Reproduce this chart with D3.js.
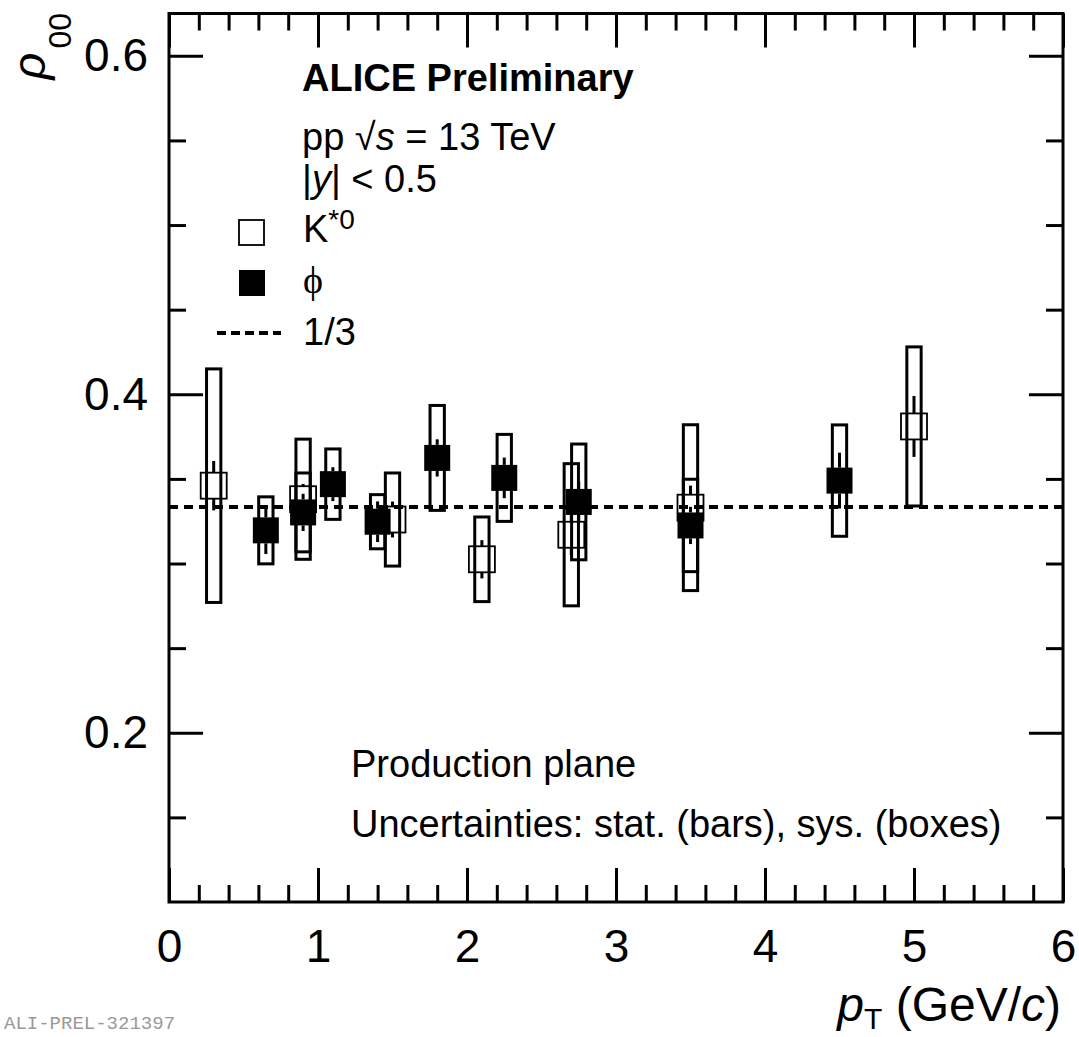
<!DOCTYPE html>
<html>
<head>
<meta charset="utf-8">
<script src="https://cdn.jsdelivr.net/npm/d3@7"></script>
<style>
  body { margin: 0; background: #fff; }
  svg text { font-family: "Liberation Sans", Arial, Helvetica, sans-serif; fill: #000; }
</style>
</head>
<body>
<div class="content"></div>
<script>
// K*0 points (open)
const kstarPt   = [0.3, 0.9, 1.5, 2.1, 2.7, 3.5, 5.0];
const kstarRho  = [0.346, 0.338, 0.326, 0.3025, 0.317, 0.333, 0.381];
const kstarStat = [0.0146, 0.009, 0.0106, 0.0113, 0.012, 0.013, 0.018];
const kstarSys  = [0.069, 0.0355, 0.0275, 0.025, 0.042, 0.049, 0.047];

// phi points (filled)
const phiPt   = [0.65, 0.9, 1.1, 1.4, 1.8, 2.25, 2.75, 3.5, 4.5];
const phiRho  = [0.3196, 0.3302, 0.3469, 0.3247, 0.3624, 0.3506, 0.3364, 0.3225, 0.349];
const phiStat = [0.014, 0.011, 0.010, 0.012, 0.011, 0.012, 0.012, 0.011, 0.0165];
const phiSys  = [0.0198, 0.0233, 0.0208, 0.016, 0.031, 0.0257, 0.0342, 0.0273, 0.0329];

const xMajor = [0, 1, 2, 3, 4, 5, 6];
const xMinor = d3.range(0.2, 6, 0.2).filter(v => Math.abs(v - Math.round(v)) > 0.01);
const yMajor = [0.2, 0.4, 0.6];
const yMinor = [0.15, 0.25, 0.3, 0.35, 0.45, 0.5, 0.55];
const refLine = 1 / 3;

const W = 1079, H = 1037;
const padL = 169, padR = 1063, padT = 13.5, padB = 902;

const svg = d3.select('div.content')
  .append('svg')
  .attr('width', W)
  .attr('height', H);

const x = d3.scaleLinear().domain([0, 6]).range([padL, padR]);
const y = d3.scaleLinear().domain([0.1, 0.625]).range([padB, padT]);

const zip = (pt, rho, stat, sys) => pt.map((p, i) => ({ pt: p, rho: rho[i], stat: stat[i], sys: sys[i] }));
const kstar = zip(kstarPt, kstarRho, kstarStat, kstarSys);
const phi = zip(phiPt, phiRho, phiStat, phiSys);

// axes (ticks inward on all four sides)
const styleAxis = (g, fs) => {
  g.select('.domain').remove();
  g.selectAll('line').attr('stroke', '#000').attr('stroke-width', 3);
  g.selectAll('text').style('font-size', fs + 'px').attr('fill', '#000');
};

svg.append('g').attr('transform', `translate(0,${padB})`)
  .call(d3.axisBottom(x).tickValues(xMajor).tickSize(-34).tickPadding(27).tickFormat(d3.format('d')))
  .call(g => styleAxis(g, 46));
svg.append('g').attr('transform', `translate(0,${padB})`)
  .call(d3.axisBottom(x).tickValues(xMinor).tickSize(-17).tickFormat(''))
  .call(g => styleAxis(g, 10));
svg.append('g').attr('transform', `translate(0,${padT})`)
  .call(d3.axisTop(x).tickValues(xMajor).tickSize(-34).tickFormat(''))
  .call(g => styleAxis(g, 10));
svg.append('g').attr('transform', `translate(0,${padT})`)
  .call(d3.axisTop(x).tickValues(xMinor).tickSize(-17).tickFormat(''))
  .call(g => styleAxis(g, 10));

svg.append('g').attr('transform', `translate(${padL},0)`)
  .call(d3.axisLeft(y).tickValues(yMajor).tickSize(-34).tickPadding(21).tickFormat(d3.format('.1f')))
  .call(g => styleAxis(g, 46));
svg.append('g').attr('transform', `translate(${padL},0)`)
  .call(d3.axisLeft(y).tickValues(yMinor).tickSize(-17).tickFormat(''))
  .call(g => styleAxis(g, 10));
svg.append('g').attr('transform', `translate(${padR},0)`)
  .call(d3.axisRight(y).tickValues(yMajor).tickSize(-34).tickFormat(''))
  .call(g => styleAxis(g, 10));
svg.append('g').attr('transform', `translate(${padR},0)`)
  .call(d3.axisRight(y).tickValues(yMinor).tickSize(-17).tickFormat(''))
  .call(g => styleAxis(g, 10));

svg.append('rect')
  .attr('x', padL).attr('y', padT)
  .attr('width', padR - padL).attr('height', padB - padT)
  .attr('fill', 'none').attr('stroke', '#000').attr('stroke-width', 3);

// 1/3 reference
svg.append('line')
  .attr('x1', padL).attr('x2', padR)
  .attr('y1', y(refLine)).attr('y2', y(refLine))
  .attr('stroke', '#000').attr('stroke-width', 4).attr('stroke-dasharray', '9,6');

// systematic boxes
const sysHalf = 0.048;
const drawSys = (data) => {
  svg.append('g').selectAll('rect')
    .data(data).enter().append('rect')
    .attr('x', d => x(d.pt - sysHalf))
    .attr('width', d => x(d.pt + sysHalf) - x(d.pt - sysHalf))
    .attr('y', d => y(d.rho + d.sys))
    .attr('height', d => y(d.rho - d.sys) - y(d.rho + d.sys))
    .attr('fill', 'none').attr('stroke', '#000').attr('stroke-width', 3);
};
drawSys(kstar);
drawSys(phi);

// stat bars + markers
const half = 13;
const drawPoints = (data, filled) => {
  const g = svg.append('g');
  data.forEach(d => {
    const cx = x(d.pt), cy = y(d.rho);
    const yt = y(d.rho + d.stat), yb = y(d.rho - d.stat);
    if (yt < cy - half) g.append('line').attr('x1', cx).attr('x2', cx).attr('y1', yt).attr('y2', cy - half)
      .attr('stroke', '#000').attr('stroke-width', 3);
    if (yb > cy + half) g.append('line').attr('x1', cx).attr('x2', cx).attr('y1', cy + half).attr('y2', yb)
      .attr('stroke', '#000').attr('stroke-width', 3);
  });
  g.selectAll('rect.marker')
    .data(data).enter().append('rect')
    .attr('class', 'marker')
    .attr('x', d => x(d.pt) - half)
    .attr('y', d => y(d.rho) - half)
    .attr('width', half * 2).attr('height', half * 2)
    .attr('fill', filled ? '#000' : 'none')
    .attr('stroke', filled ? 'none' : '#000')
    .attr('stroke-width', 1.8);
};
drawPoints(kstar, false);
drawPoints(phi, true);

// header text
svg.append('text').attr('x', 302).attr('y', 91)
  .style('font-size', '38px').style('font-weight', 'bold').text('ALICE Preliminary');

const pp = svg.append('text').attr('x', 302).attr('y', 150).style('font-size', '38px');
pp.append('tspan').text('pp  √');
pp.append('tspan').style('font-style', 'italic').text('s');
pp.append('tspan').text(' = 13 TeV');

const rap = svg.append('text').attr('x', 302).attr('y', 192).style('font-size', '38px');
rap.append('tspan').text('|');
rap.append('tspan').style('font-style', 'italic').text('y');
rap.append('tspan').text('| < 0.5');

// legend
svg.append('rect').attr('x', 239).attr('y', 220).attr('width', 25).attr('height', 25)
  .attr('fill', 'none').attr('stroke', '#000').attr('stroke-width', 1.8);
const kl = svg.append('text').attr('x', 303).attr('y', 242).style('font-size', '38px');
kl.append('tspan').text('K');
kl.append('tspan').attr('dy', -13).style('font-size', '28px').text('*0');

svg.append('rect').attr('x', 239).attr('y', 270).attr('width', 26).attr('height', 26).attr('fill', '#000');
svg.append('text').attr('x', 303).attr('y', 293).style('font-size', '38px')
  .style('font-family', '"Liberation Serif", "DejaVu Serif", serif').text('ϕ');

svg.append('line').attr('x1', 217).attr('x2', 281).attr('y1', 333).attr('y2', 333)
  .attr('stroke', '#000').attr('stroke-width', 4).attr('stroke-dasharray', '9,5');
svg.append('text').attr('x', 303).attr('y', 345).style('font-size', '38px').text('1/3');

// bottom notes
svg.append('text').attr('x', 351).attr('y', 777).style('font-size', '38px').text('Production plane');
svg.append('text').attr('x', 351).attr('y', 837).style('font-size', '38px')
  .text('Uncertainties: stat. (bars), sys. (boxes)');

// axis titles
const xt = svg.append('text').attr('x', 1061).attr('y', 1021)
  .attr('text-anchor', 'end').style('font-size', '48px');
xt.append('tspan').style('font-style', 'italic').text('p');
xt.append('tspan').attr('dy', 8).style('font-size', '30px').text('T');
xt.append('tspan').attr('dy', -8).text(' (GeV/');
xt.append('tspan').style('font-style', 'italic').text('c');
xt.append('tspan').text(')');

const yt = svg.append('text').attr('transform', 'translate(45,13) rotate(-90)')
  .attr('text-anchor', 'end').style('font-size', '47px');
yt.append('tspan').style('font-style', 'italic').text('ρ');
yt.append('tspan').attr('dx', 4).attr('dy', 26).style('font-size', '32px').text('00');

// plot id
svg.append('text').attr('x', 4).attr('y', 1029)
  .style('font-family', '"Liberation Mono", "DejaVu Sans Mono", monospace')
  .style('font-size', '19px').style('fill', '#999')
  .text('ALI-PREL-321397');
</script>
</body>
</html>
